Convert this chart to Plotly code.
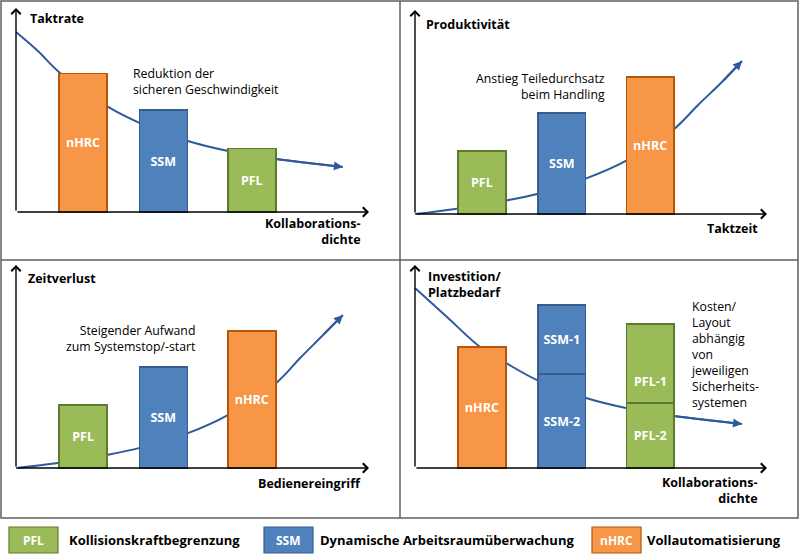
import plotly.graph_objects as go

###  1. DATA
# top left: Taktrate vs Kollaborationsdichte
tl_labels = ["nHRC", "SSM", "PFL"]
tl_values = [6.8, 5.0, 3.1]
tl_curve_x = [0, 0.62, 1.25, 2.61, 3.51, 4.87, 6.01, 7.37, 9.26]
tl_curve_y = [8.82, 7.89, 6.81, 5.15, 4.36, 3.48, 2.99, 2.60, 2.21]

# top right: Produktivität vs Taktzeit
tr_labels = ["PFL", "SSM", "nHRC"]
tr_values = [3.09, 4.95, 6.72]
tr_curve_x = [0, 1.14, 2.5, 3.47, 4.83, 5.99, 7.33, 8.07, 8.72, 9.29]
tr_curve_y = [0, 0.25, 0.64, 0.98, 1.72, 2.6, 4.12, 5.39, 6.47, 7.5]

# bottom left: Zeitverlust vs Bedienereingriff
bl_labels = ["PFL", "SSM", "nHRC"]
bl_values = [3.1, 4.98, 6.75]
bl_curve_x = [0, 1.19, 2.55, 3.51, 4.87, 6.0, 7.37, 8.05, 8.67, 9.26]
bl_curve_y = [0, 0.25, 0.64, 0.99, 1.72, 2.61, 4.19, 5.42, 6.5, 7.54]

# bottom right: Investition/Platzbedarf (stacked)
br_labels_low = ["nHRC", "SSM-2", "PFL-2"]
br_values_low = [5.96, 4.63, 3.2]
br_labels_high = ["SSM-1", "PFL-1"]
br_values_high = [3.4, 3.89]
br_curve_x = [0, 0.91, 1.85, 2.59, 3.47, 4.86, 5.99, 7.36, 9.29]
br_curve_y = [8.87, 7.44, 5.96, 5.17, 4.33, 3.45, 2.96, 2.56, 2.17]

legend_keys = ["PFL", "SSM", "nHRC"]
legend_texts = ["Kollisionskraftbegrenzung", "Dynamische Arbeitsraumüberwachung", "Vollautomatisierung"]


###  2. STYLE
W, H = 800, 555
FONT = "Open Sans"
CURVE = "#2E5A9C"
FRAME = "#5f5f5f"
COLORS = {"PFL": ("#9BBB59", "#5E7A2C"),
          "SSM": ("#4F81BD", "#385D8A"),
          "nHRC": ("#F79646", "#B65708")}
BAR_X = [1.9, 4.17, 6.68]
BAR_W = 1.36

# panel rect (px) + axis origin + arrow tips (px)
PANELS = [
    dict(rect=(1, 1, 400, 260), origin=(16, 212), tip=(369, 8)),
    dict(rect=(400, 1, 798, 260), origin=(415, 214), tip=(767, 10)),
    dict(rect=(1, 260, 400, 518), origin=(16, 468), tip=(369, 265)),
    dict(rect=(400, 260, 798, 518), origin=(415, 468), tip=(767, 265)),
]


def px(x, y):
    return x / W, 1 - y / H


def base(label):
    return label.split("-")[0]


fig = go.Figure()
layout_axes = {}
annotations = []

for i, p in enumerate(PANELS):
    l, t, r, b = p["rect"]
    ox, oy = p["origin"]
    tx, ty = p["tip"]
    ux = (tx - ox) / 10
    uy = (oy - ty) / 10
    sfx = "" if i == 0 else str(i + 1)
    layout_axes["xaxis" + sfx] = dict(domain=[l / W, r / W], range=[(l - ox) / ux, (r - ox) / ux],
                                      visible=False, fixedrange=True, anchor="y" + sfx)
    layout_axes["yaxis" + sfx] = dict(domain=[1 - b / H, 1 - t / H], range=[(oy - b) / uy, (oy - t) / uy],
                                      visible=False, fixedrange=True, anchor="x" + sfx)
    # axis arrows
    for hx, hy in [(10, 0), (0, 10)]:
        annotations.append(dict(x=hx, y=hy, ax=0, ay=0, xref="x" + sfx, yref="y" + sfx,
                                axref="x" + sfx, ayref="y" + sfx, text="", showarrow=True,
                                arrowhead=4, arrowsize=1.3, arrowwidth=1.4, arrowcolor="black"))

curves = [(tl_curve_x, tl_curve_y), (tr_curve_x, tr_curve_y),
          (bl_curve_x, bl_curve_y), (br_curve_x, br_curve_y)]
for i, (cx, cy) in enumerate(curves):
    sfx = "" if i == 0 else str(i + 1)
    fig.add_trace(go.Scatter(x=cx, y=cy, mode="lines", xaxis="x" + sfx, yaxis="y" + sfx,
                             line=dict(color=CURVE, width=2, shape="spline", smoothing=1),
                             zorder=-1, hoverinfo="skip", showlegend=False))
    annotations.append(dict(x=cx[-1], y=cy[-1], ax=cx[-2], ay=cy[-2], xref="x" + sfx, yref="y" + sfx,
                            axref="x" + sfx, ayref="y" + sfx, text="", showarrow=True,
                            arrowhead=2, arrowsize=0.9, arrowwidth=2, arrowcolor=CURVE))


def add_bars(labels, values, xs, sfx, text=None):
    fig.add_trace(go.Bar(x=xs, y=values, width=BAR_W, xaxis="x" + sfx, yaxis="y" + sfx,
                         marker=dict(color=[COLORS[base(s)][0] for s in labels],
                                     line=dict(color=[COLORS[base(s)][1] for s in labels], width=1.4)),
                         text=labels if text is None else text,
                         textposition="inside", insidetextanchor="middle", textangle=0,
                         textfont=dict(family=FONT, size=12.5, color="white", weight="bold"),
                         zorder=1, hoverinfo="skip", showlegend=False))


add_bars(tl_labels, tl_values, BAR_X, "")
add_bars(tr_labels, tr_values, BAR_X, "2")
add_bars(bl_labels, bl_values, BAR_X, "3")
add_bars(br_labels_low, br_values_low, BAR_X, "4")
add_bars(br_labels_high, br_values_high, BAR_X[1:], "4", text=[br_labels_high[0], ""])
annotations.append(dict(x=BAR_X[2], y=br_values_low[2] + 1.05, xref="x4", yref="y4",
                        text=br_labels_high[1], showarrow=False,
                        font=dict(family=FONT, size=12.5, color="white", weight="bold")))


###  3. TEXTS
def txt(s, x, y, anchor="left", bold=False, size=12):
    xp, yp = px(x, y)
    annotations.append(dict(x=xp, y=yp, xref="paper", yref="paper", text=s, showarrow=False,
                            xanchor=anchor, yanchor="middle", align=anchor,
                            font=dict(family=FONT, size=size, color="black",
                                      weight="bold" if bold else "normal")))


# axis titles
txt("Taktrate", 28, 18, bold=True, size=12.5)
txt("Produktivität", 424, 24, bold=True, size=12.5)
txt("Zeitverlust", 26, 278, bold=True, size=12.5)
txt("Investition/<br>Platzbedarf", 426, 284, bold=True, size=12.5)
txt("Kollaborations-<br>dichte", 363, 232, anchor="right", bold=True, size=12.5)
txt("Taktzeit", 760, 228, anchor="right", bold=True, size=12.5)
txt("Bedienereingriff", 363, 483, anchor="right", bold=True, size=12.5)
txt("Kollaborations-<br>dichte", 760, 490, anchor="right", bold=True, size=12.5)

# notes
txt("Reduktion der<br>sicheren Geschwindigkeit", 131, 81, size=12.3)
txt("Anstieg Teiledurchsatz<br>beim Handling", 607, 87, anchor="right", size=12.3)
txt("Steigender Aufwand<br>zum Systemstop/-start", 198, 338, anchor="right", size=12.3)
txt("Kosten/<br>Layout<br>abhängig<br>von<br>jeweiligen<br>Sicherheits-<br>systemen", 689, 354, size=12.3)

###  4. FRAMES + LEGEND
shapes = [
    dict(type="rect", xref="paper", yref="paper", x0=px(1, 0)[0], x1=px(798, 0)[0],
         y0=px(0, 518)[1], y1=px(0, 1)[1], line=dict(color=FRAME, width=1.5)),
    dict(type="line", xref="paper", yref="paper", x0=px(400, 0)[0], x1=px(400, 0)[0],
         y0=px(0, 518)[1], y1=px(0, 1)[1], line=dict(color=FRAME, width=1.5)),
    dict(type="line", xref="paper", yref="paper", x0=px(1, 0)[0], x1=px(798, 0)[0],
         y0=px(0, 260)[1], y1=px(0, 260)[1], line=dict(color=FRAME, width=1.5)),
]

legend_box_x = [9, 264, 592]
legend_text_x = [67, 318, 645]
for key, label, bx, lx in zip(legend_keys, legend_texts, legend_box_x, legend_text_x):
    fill, edge = COLORS[key]
    shapes.append(dict(type="rect", xref="paper", yref="paper", x0=px(bx, 0)[0], x1=px(bx + 49, 0)[0],
                       y0=px(0, 553)[1], y1=px(0, 527)[1], fillcolor=fill, line=dict(color=edge, width=1.2)))
    annotations.append(dict(x=px(bx + 24.5, 0)[0], y=px(0, 540)[1], xref="paper", yref="paper",
                            text=key, showarrow=False, xanchor="center", yanchor="middle",
                            font=dict(family=FONT, size=12, color="white", weight="bold")))
    txt(label, lx, 540, bold=True, size=13)

fig.update_layout(
    **layout_axes,
    barmode="stack",
    shapes=shapes,
    annotations=annotations,
    width=W, height=H,
    margin=dict(l=0, r=0, t=0, b=0),
    paper_bgcolor="white",
    plot_bgcolor="white",
    showlegend=False,
)

# the page body has a default 8px margin; drop it so the figure fills the window
fig.write_html("out.html", config={"displayModeBar": False},
               post_script="document.body.style.margin='0';")
